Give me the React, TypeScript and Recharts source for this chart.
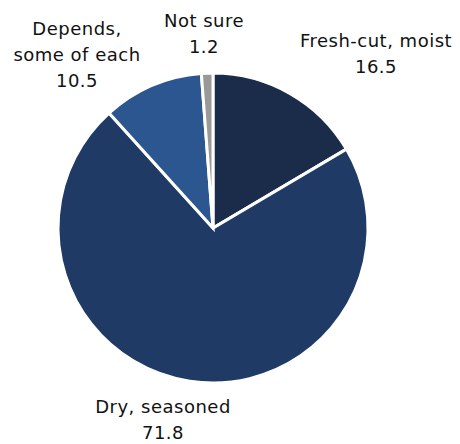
import { PieChart, Pie, Cell } from 'recharts'

document.body.style.margin = '0'

const categories = ['Fresh-cut, moist', 'Dry, seasoned', 'Depends, some of each', 'Not sure']
const shares = [16.5, 71.8, 10.5, 1.2]
const labelLines = [
  ['Fresh-cut, moist'],
  ['Dry, seasoned'],
  ['Depends,', 'some of each'],
  ['Not sure'],
]

const colors = ['#1a2c4a', '#1f3a64', '#2b5690', '#999999']

// label anchor (centre of text block, first baseline) relative to pie centre
const labelOffsets = [
  { dx: 163, dy: -181 },
  { dx: -50, dy: 185 },
  { dx: -136, dy: -193 },
  { dx: -9, dy: -201 },
]

const data = categories.map((name, i) => ({ name, value: shares[i], lines: labelLines[i] }))

const LINE = 26

function renderLabel(props: any) {
  const { cx, cy, index } = props
  const off = labelOffsets[index]
  const lines: string[] = [...data[index].lines, data[index].value.toFixed(1)]
  return (
    <text
      x={cx + off.dx}
      y={cy + off.dy}
      textAnchor="middle"
      fill="#111"
      style={{ fontFamily: 'DejaVu Sans', fontSize: 18, letterSpacing: 0.5 }}
    >
      {lines.map((l, i) => (
        <tspan key={i} x={cx + off.dx} dy={i === 0 ? 0 : LINE}>
          {l}
        </tspan>
      ))}
    </text>
  )
}

export default function App() {
  return (
    <div style={{ width: 460, height: 444, background: '#fff' }}>
      <PieChart width={460} height={444} margin={{ top: 0, right: 0, bottom: 0, left: 0 }}>
        <Pie
          data={data}
          dataKey="value"
          nameKey="name"
          cx={213}
          cy={228}
          outerRadius={155}
          startAngle={90}
          endAngle={-270}
          stroke="#fff"
          strokeWidth={3}
          label={renderLabel}
          labelLine={false}
          isAnimationActive={false}
        >
          {data.map((_, i) => (
            <Cell key={i} fill={colors[i]} />
          ))}
        </Pie>
      </PieChart>
    </div>
  )
}
